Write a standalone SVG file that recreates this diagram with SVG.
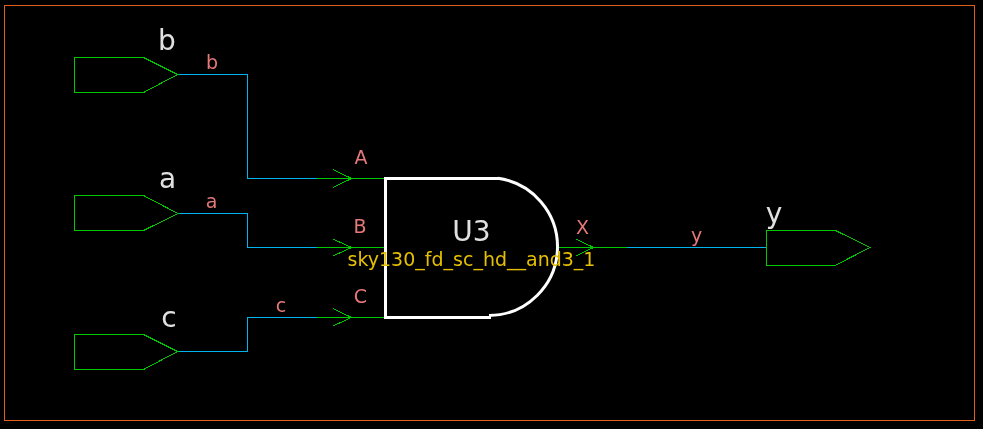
<svg xmlns="http://www.w3.org/2000/svg" width="983" height="429" viewBox="0 0 983 429">
<defs><filter id="gray" x="-20%" y="-20%" width="140%" height="140%" color-interpolation-filters="sRGB"><feOffset dx="0" dy="0"/></filter></defs>
<style>
.frame{fill:none;stroke:#e0601a;stroke-width:1}
.wire,.pin,.port,.gate{fill:none;shape-rendering:crispEdges}
.wire{stroke:#00b4f0;stroke-width:1}
.pin{stroke:#00c800;stroke-width:1}
.port{stroke:#00c800;stroke-width:1}
.gate{stroke:#fff;stroke-width:3}
.arc{fill:none;stroke:#fff;stroke-width:3}
text{font-family:"DejaVu Sans",sans-serif;text-anchor:middle;filter:url(#gray)}
.net{font-size:19px;fill:#e57878}
.name{font-size:28px;fill:#e0e0e0}
.type{font-size:19px;fill:#e6c000}
</style>
<rect width="983" height="429" fill="#000"/>
<rect class="frame" x="4.5" y="5.5" width="970" height="415"/>
<g id="connectors">
<path class="wire" d="M178 74.5H247.5V178.5H317"/>
<path class="wire" d="M178 213.5H247.5V247.5H317"/>
<path class="wire" d="M178 351.5H247.5V317.5H317"/>
<path class="wire" d="M627 247.5H766.5"/>
</g>
<g id="input-b">
<path class="port" d="M74.5 57.5V92.5H143.500L177.500 74.5L143.500 57.5Z"/>
<text class="name" x="167" y="50">b</text>
<text class="net" x="212" y="69">b</text>
</g>
<g id="input-a">
<path class="port" d="M74.5 195.5V230.5H143.500L178 213.500L143.500 195.500Z"/>
<text class="name" x="167.500" y="188">a</text>
<text class="net" x="211.500" y="208">a</text>
</g>
<g id="input-c">
<path class="port" d="M74.5 334.500V369.500H143.500L177.500 351.500L143.500 334.500Z"/>
<text class="name" x="169" y="327">c</text>
<text class="net" x="281" y="312">c</text>
</g>
<g id="output-y">
<path class="port" d="M766.500 230.500V265.500H835L870 247.500L835.500 230.500Z"/>
<text class="name" x="774" y="223">y</text>
<text class="net" x="696.500" y="242">y</text>
</g>
<g id="U3">
<path class="pin" d="M317 178.500H385M333 169.500L351.500 178.500L333 187.500"/>
<path class="pin" d="M317 247.500H385M333 239L351.500 247.500L333 256"/>
<path class="pin" d="M317 317.500H385M333 308.500L351.500 317.500L333 326"/>
<path class="pin" d="M558 247.500H627M576 239L593.500 247.500L576 256"/>
<path class="gate" d="M499 178.300H385.500V317.300H490.500"/>
<path class="arc" d="M498 178.300A69 69 0 0 1 557.500 247.500A69 69 0 0 1 489 315.500"/>
<text class="name" x="471.500" y="241">U3</text>
<text class="type" x="471.500" y="266">sky130_fd_sc_hd__and3_1</text>
<text class="net" x="361" y="164">A</text>
<text class="net" x="360" y="233">B</text>
<text class="net" x="360.500" y="303">C</text>
<text class="net" x="582.500" y="234">X</text>
</g>
</svg>
